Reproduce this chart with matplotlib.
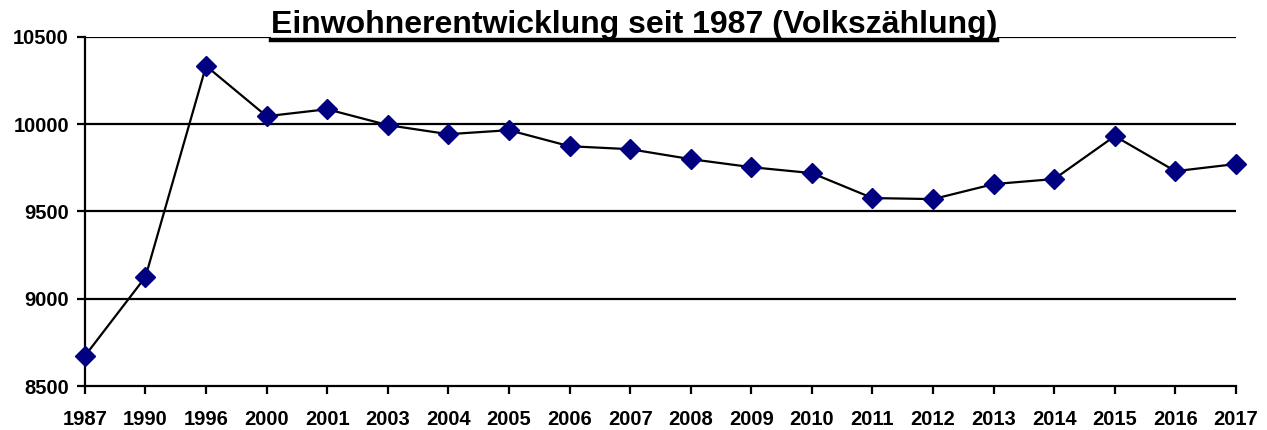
import matplotlib
matplotlib.use('Agg')
import matplotlib.pyplot as plt
import numpy as np
from matplotlib.lines import Line2D

plt.rcParams['font.family'] = ['Liberation Sans', 'DejaVu Sans']

years = ['1987', '1990', '1996', '2000', '2001', '2003', '2004', '2005', '2006', '2007',
         '2008', '2009', '2010', '2011', '2012', '2013', '2014', '2015', '2016', '2017']
einwohner = [8672, 9125, 10334, 10046, 10086, 9995, 9943, 9966, 9874, 9857,
             9800, 9754, 9720, 9577, 9571, 9657, 9686, 9932, 9731, 9772]
y_ticks = [8500, 9000, 9500, 10000, 10500]

fig = plt.figure(figsize=(12.67, 4.3), dpi=100)
ax = fig.add_axes([0.067, 0.1023, 0.9085, 0.8117])

x = np.arange(len(years))
ax.plot(x, einwohner, color='black', lw=1.6, marker='D', markersize=10,
        markerfacecolor='#000080', markeredgecolor='#000080', zorder=3, clip_on=False)

ax.set_xlim(0, len(years) - 1)
ax.set_ylim(8500, 10500)
ax.set_yticks(y_ticks)
ax.set_xticks(x)
ax.set_xticklabels(years)
for yv in y_ticks[1:]:
    ax.axhline(yv, color='black', lw=1.6, zorder=1)

for s in ['top', 'right']:
    ax.spines[s].set_visible(False)
for s in ['left', 'bottom']:
    ax.spines[s].set_linewidth(1.6)
ax.tick_params(axis='both', direction='out', length=5.5, width=1.6, labelsize=14.5)
ax.tick_params(axis='x', pad=12)
ax.tick_params(axis='y', pad=6)
for lab in ax.get_xticklabels() + ax.get_yticklabels():
    lab.set_fontweight('bold')

title = fig.text(0.5004, 1 - 33.5 / 430, 'Einwohnerentwicklung seit 1987 (Volkszählung)',
                 ha='center', va='baseline', fontsize=23, fontweight='bold',
                 bbox=dict(facecolor='white', edgecolor='none', pad=0), zorder=5)

fig.canvas.draw()
bb = title.get_window_extent().transformed(fig.transFigure.inverted())
uy = 1 - 39.5 / 430
fig.add_artist(Line2D([bb.x0, bb.x1], [uy, uy], color='black',
                      lw=3.2, transform=fig.transFigure, zorder=6))

fig.savefig('out.png', dpi=100)
